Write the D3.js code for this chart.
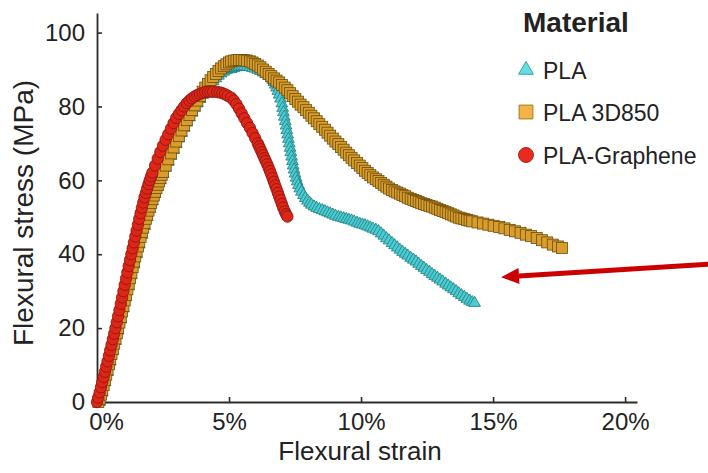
<!DOCTYPE html>
<html>
<head>
<meta charset="utf-8">
<script src="https://cdn.jsdelivr.net/npm/d3@7"></script>
<style>
  body { margin: 0; background: #fff; }
  svg text { font-family: "Liberation Sans", Arial, sans-serif; fill: #222; }
</style>
</head>
<body>
<svg id="chart" width="708" height="473"></svg>
<script>
// tick labels
var xTicks = [0, 5, 10, 15, 20];
var yTicks = [0, 20, 40, 60, 80, 100];

var seriesNames = ["PLA", "PLA 3D850", "PLA-Graphene"];

// [strain %, stress MPa]
var pla = [
  [0.1,0],[0.2,2.5],[0.3,5.3],[0.4,8.1],[0.5,10.9],[0.6,13.7],[0.7,16.5],[0.8,19.3],[0.9,22.3],[1.0,25.3],
  [1.1,28.3],[1.2,31.3],[1.3,34.3],[1.4,37.2],[1.5,40],[1.6,42.6],[1.7,45.2],[1.8,47.6],[1.9,50],[2.0,52.2],
  [2.1,54.3],[2.2,56.3],[2.3,58.2],[2.4,60],[2.5,61.7],[2.6,63.4],[2.7,65],[2.8,66.6],[2.9,68.2],[3.0,69.8],
  [3.1,71.3],[3.2,72.8],[3.3,74.2],[3.4,75.6],[3.5,77],[3.6,78.3],[3.7,79.6],[3.8,80.8],[3.9,82],[4.0,83.1],
  [4.1,84.1],[4.2,85.1],[4.3,86],[4.4,86.8],[4.5,87.6],[4.6,88.3],[4.7,88.9],[4.8,89.4],[4.9,89.8],[5.0,90.1],
  [5.08,90.1],[5.18,90.4],[5.28,90.6],[5.38,90.7],[5.48,90.8],[5.58,90.8],[5.68,90.7],[5.79,90.6],[5.89,90.4],[5.99,90.2],
  [6.09,89.9],[6.19,89.6],[6.29,89.2],[6.39,88.8],[6.5,88.3],[6.6,87.7],[6.65,87.2],[6.7,86.6],[6.75,85.9],[6.8,85.1],
  [6.85,84.2],[6.9,83.2],[6.95,82.1],[7.0,80.8],[7.03,79.6],[7.06,78.4],[7.09,77.2],[7.13,76],[7.16,74.8],[7.19,73.6],
  [7.22,72.4],[7.25,71.2],[7.28,70],[7.31,68.8],[7.34,67.6],[7.37,66.4],[7.4,65.2],[7.43,64],[7.46,62.9],[7.5,61.8],
  [7.54,60.7],[7.58,59.7],[7.63,58.7],[7.68,57.8],[7.74,56.9],[7.82,56],[7.89,55.2],[7.97,54.5],[8.05,53.9],[8.12,53.4],
  [8.22,52.9],[8.32,52.5],[8.42,52.2],[8.53,51.9],[8.63,51.6],[8.73,51.3],[8.83,51],[8.93,50.7],[9.03,50.4],[9.14,50.1],
  [9.24,49.9],[9.34,49.7],[9.44,49.5],[9.54,49.3],[9.64,49.1],[9.74,48.8],[9.85,48.5],[9.95,48.2],[10.05,48],[10.15,47.8],
  [10.25,47.5],[10.35,47.2],[10.45,46.9],[10.56,46.6],[10.66,46.2],[10.76,45.6],[10.86,45],[10.96,44.3],[11.06,43.7],[11.17,43],
  [11.27,42.4],[11.37,41.8],[11.47,41.2],[11.57,40.6],[11.67,40.1],[11.77,39.6],[11.88,39],[11.98,38.5],[12.08,38],[12.18,37.4],
  [12.28,36.8],[12.38,36.3],[12.48,35.7],[12.59,35.2],[12.69,34.6],[12.79,34.1],[12.89,33.6],[12.99,33.1],[13.09,32.6],[13.2,32],
  [13.3,31.5],[13.4,31],[13.5,30.5],[13.6,30],[13.7,29.4],[13.8,28.9],[13.91,28.4],[14.01,27.9],[14.11,27.4],[14.21,27],[14.3,26.8]
];

var pla3d850 = [
  [0.05,0],[0.1,0.8],[0.15,2],[0.2,3.3],[0.25,4.6],[0.3,6],[0.35,7.4],[0.4,8.8],[0.45,10.2],[0.5,11.6],
  [0.55,13],[0.6,14.4],[0.65,15.8],[0.7,17.2],[0.75,18.6],[0.8,20],[0.85,21.5],[0.9,23],[0.95,24.5],[1.0,26],
  [1.05,27.5],[1.1,29],[1.15,30.5],[1.2,32],[1.25,33.5],[1.3,35],[1.35,36.5],[1.4,38],[1.45,39.4],[1.5,40.8],
  [1.55,42.1],[1.6,43.4],[1.65,44.7],[1.7,46],[1.75,47.2],[1.8,48.4],[1.85,49.6],[1.9,50.7],[1.95,51.8],[2.0,52.9],
  [2.05,53.9],[2.1,54.9],[2.15,55.9],[2.2,56.9],[2.25,57.9],[2.3,58.8],[2.35,59.7],[2.4,60.6],[2.45,61.5],[2.5,62.3],
  [2.6,64],[2.7,65.7],[2.8,67.3],[2.9,68.9],[3.0,70.5],[3.1,72],[3.2,73.5],[3.3,74.9],[3.4,76.3],[3.5,77.7],
  [3.6,79],[3.7,80.3],[3.8,81.6],[3.9,82.8],[4.0,84],[4.1,85.1],[4.2,86.1],[4.3,87.1],[4.4,88],[4.5,88.8],
  [4.6,89.6],[4.7,90.3],[4.8,90.9],[4.9,91.4],[5.0,91.9],[5.08,92.2],[5.18,92.4],[5.28,92.5],[5.38,92.6],[5.48,92.6],
  [5.58,92.5],[5.68,92.4],[5.79,92.2],[5.89,91.9],[5.99,91.5],[6.09,91.1],[6.19,90.6],[6.29,90],[6.39,89.4],[6.5,88.8],
  [6.6,88.2],[6.7,87.6],[6.8,87],[6.9,86.5],[7.0,85.8],[7.11,85.1],[7.21,84.4],[7.31,83.6],[7.41,82.8],[7.51,82],
  [7.61,81.3],[7.71,80.5],[7.82,79.8],[7.92,79],[8.02,78.3],[8.12,77.5],[8.22,76.8],[8.32,76],[8.42,75.2],[8.53,74.5],
  [8.63,73.7],[8.73,72.9],[8.83,72.1],[8.93,71.3],[9.03,70.5],[9.14,69.8],[9.24,69],[9.34,68.3],[9.44,67.5],[9.54,66.8],
  [9.64,66.1],[9.74,65.4],[9.85,64.7],[9.95,64],[10.05,63.3],[10.15,62.6],[10.25,62],[10.35,61.4],[10.45,60.8],[10.56,60.3],
  [10.66,59.8],[10.76,59.3],[10.86,58.8],[10.96,58.3],[11.06,57.8],[11.17,57.4],[11.27,57],[11.37,56.7],[11.47,56.4],[11.57,56],
  [11.67,55.7],[11.77,55.3],[11.88,55],[11.98,54.7],[12.08,54.4],[12.18,54.1],[12.28,53.8],[12.38,53.6],[12.48,53.3],[12.59,53.1],
  [12.69,52.9],[12.79,52.6],[12.89,52.3],[12.99,52],[13.09,51.7],[13.2,51.4],[13.3,51.1],[13.4,50.8],[13.5,50.5],[13.6,50.2],
  [13.7,49.9],[13.8,49.7],[13.91,49.5],[14.01,49.3],[14.11,49.1],[14.21,48.9],[14.41,48.6],[14.62,48.3],[14.82,48],[15.02,47.7],
  [15.23,47.4],[15.43,47],[15.63,46.6],[15.83,46.2],[16.04,45.8],[16.24,45.3],[16.44,44.9],[16.65,44.4],[16.85,43.8],[17.05,43.2],
  [17.26,42.6],[17.46,42.1],[17.61,41.7]
];

var plaGraphene = [
  [0,0],[0.05,1.2],[0.1,2.6],[0.15,4],[0.2,5.4],[0.25,6.8],[0.3,8.2],[0.35,9.6],[0.4,11],[0.45,12.5],
  [0.5,14],[0.55,15.5],[0.6,17],[0.65,18.5],[0.7,20],[0.75,21.6],[0.8,23.2],[0.85,24.9],[0.9,26.6],[0.95,28.3],
  [1.0,30],[1.05,31.7],[1.1,33.4],[1.15,35.1],[1.2,36.8],[1.25,38.4],[1.3,40],[1.35,41.6],[1.4,43.2],[1.45,44.8],
  [1.5,46.4],[1.55,48],[1.6,49.6],[1.65,51.1],[1.7,52.6],[1.75,54],[1.8,55.4],[1.85,56.6],[1.9,57.8],[1.95,59],
  [2.0,60.1],[2.05,61.1],[2.1,62.1],[2.2,64],[2.3,65.9],[2.4,67.7],[2.5,69.4],[2.6,71],[2.7,72.5],[2.8,74],
  [2.9,75.5],[3.0,76.9],[3.1,78],[3.2,79],[3.3,80],[3.4,80.9],[3.5,81.6],[3.6,82.2],[3.7,82.7],[3.8,83.1],
  [3.9,83.4],[4.0,83.7],[4.1,83.9],[4.2,84],[4.3,84],[4.4,84],[4.55,83.9],[4.65,83.8],[4.75,83.6],[4.85,83.3],
  [4.95,82.9],[5.08,82.4],[5.18,81.6],[5.28,80.6],[5.38,79.4],[5.48,78.1],[5.58,76.8],[5.68,75.5],[5.79,74.2],[5.89,72.8],
  [5.99,71.4],[6.09,70],[6.14,69.2],[6.19,68.4],[6.24,67.6],[6.29,66.8],[6.34,66],[6.39,65.2],[6.45,64.3],[6.5,63.4],
  [6.55,62.5],[6.6,61.6],[6.65,60.6],[6.7,59.6],[6.75,58.6],[6.8,57.6],[6.85,56.6],[6.9,55.6],[6.95,54.6],[7.0,53.6],
  [7.05,52.6],[7.11,51.6],[7.16,50.8],[7.21,50.2]
];

// arrow annotation, in data units: [strain, stress]
var arrowFrom = [23.2, 37.3];
var arrowTo = [15.3, 33.8];

var svg = d3.select("#chart");

var x = d3.scaleLinear().domain([0, 20.45]).range([97, 637]);
var y = d3.scaleLinear().domain([0, 105.3]).range([402, 13]);

// axes, ticks pointing inward
var xAxis = d3.axisBottom(x).tickValues(xTicks).tickFormat(function(d) { return d + "%"; })
  .tickSizeInner(-5).tickSizeOuter(0).tickPadding(11);
var yAxis = d3.axisLeft(y).tickValues(yTicks)
  .tickSizeInner(-5).tickSizeOuter(0).tickPadding(12);

var gx = svg.append("g").attr("transform", "translate(0," + y(0) + ")").call(xAxis);
var gy = svg.append("g").attr("transform", "translate(" + x(0) + ",0)").call(yAxis);

[gx, gy].forEach(function(g) {
  g.select(".domain").attr("stroke", "#2a2a2a").attr("stroke-width", 1.8);
  g.selectAll(".tick line").attr("stroke", "#2a2a2a").attr("stroke-width", 1.6);
  g.selectAll(".tick text").attr("font-size", 24).attr("fill", "#222")
    .style("font-family", "'Liberation Sans', Arial, sans-serif");
});
gx.selectAll(".tick line").filter(function(d) { return d === 0; }).remove();
gx.selectAll(".tick text").filter(function(d) { return d === 0; }).attr("dx", 9);

// axis titles
svg.append("text")
  .attr("x", 360).attr("y", 460)
  .attr("text-anchor", "middle")
  .attr("font-size", 26)
  .text("Flexural strain");

svg.append("text")
  .attr("transform", "translate(33,213) rotate(-90)")
  .attr("text-anchor", "middle")
  .attr("font-size", 28)
  .text("Flexural stress (MPa)");

// series marks
var plot = svg.append("g");

plot.append("g").selectAll("path")
  .data(pla).enter().append("path")
    .attr("d", d3.symbol().type(d3.symbolTriangle).size(60))
    .attr("transform", function(d) { return "translate(" + x(d[0]) + "," + y(d[1]) + ")"; })
    .attr("fill", "#4ccbd1")
    .attr("stroke", "#1f7d82")
    .attr("stroke-width", 0.8);

plot.append("g").selectAll("rect")
  .data(pla3d850).enter().append("rect")
    .attr("x", function(d) { return x(d[0]) - 5.5; })
    .attr("y", function(d) { return y(d[1]) - 5.5; })
    .attr("width", 11).attr("height", 11)
    .attr("fill", "#d99d2c")
    .attr("stroke", "#6a4c0c")
    .attr("stroke-width", 0.8);

plot.append("g").selectAll("circle")
  .data(plaGraphene).enter().append("circle")
    .attr("cx", function(d) { return x(d[0]); })
    .attr("cy", function(d) { return y(d[1]); })
    .attr("r", 5.7)
    .attr("fill", "#dc2618")
    .attr("stroke", "#8a140c")
    .attr("stroke-width", 0.8);

// legend
var legend = svg.append("g");
legend.append("text")
  .attr("x", 523).attr("y", 32)
  .attr("font-size", 28).attr("font-weight", "bold")
  .attr("fill", "#111")
  .text("Material");

var legendY = [70, 112, 155];
var legendFill = ["#62dfe5", "#f3b445", "#e82a1f"];
var legendStroke = ["#3d9fa4", "#9c772a", "#b3211a"];
var legendShape = [d3.symbolTriangle, d3.symbolSquare, d3.symbolCircle];
var legendSize = [95, 190, 175];

seriesNames.forEach(function(name, i) {
  legend.append("path")
    .attr("d", d3.symbol().type(legendShape[i]).size(legendSize[i]))
    .attr("transform", "translate(526," + legendY[i] + ")")
    .attr("fill", legendFill[i])
    .attr("stroke", legendStroke[i])
    .attr("stroke-width", 1);
  legend.append("text")
    .attr("x", 543).attr("y", legendY[i] + 9)
    .attr("font-size", 23)
    .text(name);
});

// red arrow pointing at the PLA curve
var ax0 = x(arrowFrom[0]), ay0 = y(arrowFrom[1]);
var ax1 = x(arrowTo[0]), ay1 = y(arrowTo[1]);
var ang = Math.atan2(ay1 - ay0, ax1 - ax0);
var headLen = 18, headHalf = 8;
var bx = ax1 - headLen * Math.cos(ang), by = ay1 - headLen * Math.sin(ang);
svg.append("line")
  .attr("x1", ax0).attr("y1", ay0)
  .attr("x2", bx).attr("y2", by)
  .attr("stroke", "#cc0000").attr("stroke-width", 5);
svg.append("path")
  .attr("d", "M" + ax1 + "," + ay1 +
    "L" + (bx - headHalf * Math.sin(ang)) + "," + (by + headHalf * Math.cos(ang)) +
    "L" + (bx + headHalf * Math.sin(ang)) + "," + (by - headHalf * Math.cos(ang)) + "Z")
  .attr("fill", "#cc0000");
</script>
</body>
</html>
